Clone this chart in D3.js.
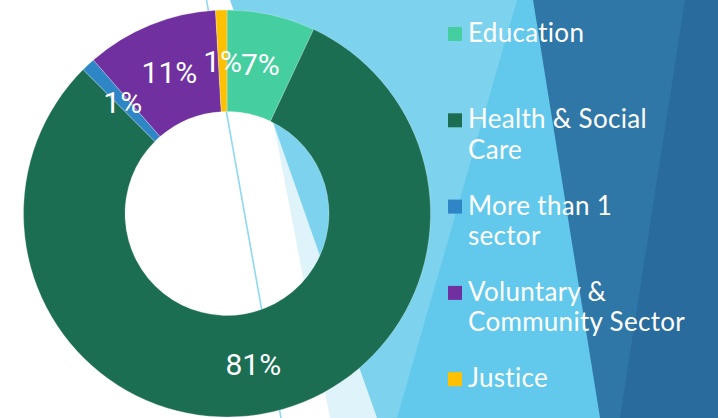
<!DOCTYPE html>
<html>
<head>
<meta charset="utf-8">
<script src="https://cdn.jsdelivr.net/npm/d3@7"></script>
<style>
  html, body { margin: 0; padding: 0; background: #ffffff; }
  svg { display: block; }
</style>
</head>
<body>
<script>
// ---- data ----
const categories = ["Education", "Health & Social Care", "More than 1 sector", "Voluntary & Community Sector", "Justice"];
const values = [7.0, 80.5, 1.1, 10.5, 0.9];
const colors = ["#45cfa0", "#1c6e53", "#2e86c6", "#7030a0", "#ffc000"];
const legendLines = [["Education"], ["Health & Social", "Care"], ["More than 1", "sector"], ["Voluntary &", "Community Sector"], ["Justice"]];

const W = 718, H = 418;
const svg = d3.select("body").append("svg").attr("width", W).attr("height", H);

// ---- decorative background (slide theme facets) ----
const bg = svg.append("g");
const facets = [
  { fill: "#dff3fa", pts: [[250, 0], [718, 0], [718, 418], [330, 418]] },
  { fill: "#7dd3ee", pts: [[230, 0], [718, 0], [718, 418], [377, 418]] },
  { fill: "#62c9ec", pts: [[517, 0], [533, 0], [600, 418], [397, 418]] },
  { fill: "#2f77a7", pts: [[533, 0], [718, 0], [718, 418], [600, 418]] },
  { fill: "#286b9c", pts: [[685, 0], [718, 0], [718, 418], [620, 418]] }
];
const poly = d3.line();
bg.selectAll("path").data(facets).join("path")
  .attr("d", d => poly(d.pts) + "Z")
  .attr("fill", d => d.fill);
bg.append("line")
  .attr("x1", 206.5).attr("y1", 0).attr("x2", 281).attr("y2", 418)
  .attr("stroke", "#8ed8f2").attr("stroke-width", 1.6);

// ---- donut ----
const cx = 227, cy = 213.5, rOuter = 203.5, rInner = 102;
const pie = d3.pie().sort(null).value(d => d.value);
const arcs = pie(categories.map((c, i) => ({ name: c, value: values[i], color: colors[i] })));
const arc = d3.arc().innerRadius(rInner).outerRadius(rOuter);
const total = d3.sum(values);

const g = svg.append("g").attr("transform", `translate(${cx},${cy})`);
g.selectAll("path").data(arcs).join("path")
  .attr("d", arc)
  .attr("fill", d => d.data.color)
  .attr("stroke", "#ffffff")
  .attr("stroke-opacity", 0.5)
  .attr("stroke-width", 0.5);

g.selectAll("text").data(arcs).join("text")
  .attr("transform", d => `translate(${arc.centroid(d)})`)
  .attr("text-anchor", "middle")
  .attr("dy", "0.36em")
  .attr("fill", "#ffffff")
  .attr("font-family", "Roboto, 'Liberation Sans', sans-serif")
  .attr("font-size", 30)
  .text(d => Math.round(d.data.value / total * 100) + "%");

// ---- legend ----
const legend = svg.append("g").attr("transform", "translate(448,42)");
const step = 86.3, lineH = 30.5;
const items = legend.selectAll("g").data(categories).join("g")
  .attr("transform", (d, i) => `translate(0,${i * step})`);
items.append("rect")
  .attr("x", 0).attr("y", -15).attr("width", 14).attr("height", 14)
  .attr("fill", (d, i) => colors[i]);
items.append("text")
  .attr("x", 20)
  .attr("fill", "#ffffff")
  .attr("font-family", "Lato, 'Open Sans', sans-serif")
  .attr("font-size", 26)
  .attr("letter-spacing", 0.3)
  .selectAll("tspan").data((d, i) => legendLines[i]).join("tspan")
  .attr("x", 20)
  .attr("y", (d, j) => j * lineH)
  .text(d => d);
</script>
</body>
</html>
